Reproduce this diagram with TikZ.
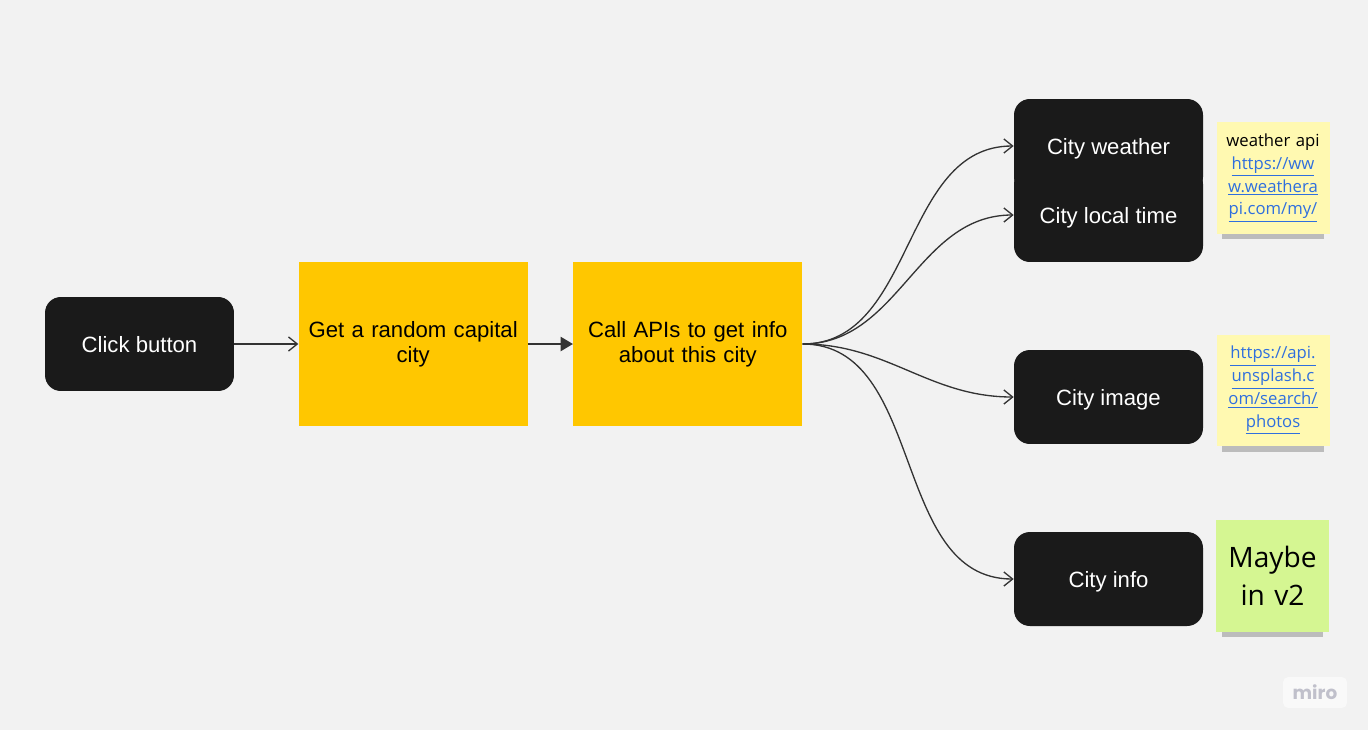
\documentclass[tikz,border=0pt]{standalone}
\usepackage{fontspec}
\setmainfont{Liberation Sans}
\newfontfamily\notefont{Open Sans}
\newfontfamily\logofont{Poppins}
\usetikzlibrary{arrows.meta, positioning, shadows}
\definecolor{bgC}  {RGB}{242, 242, 242}
\definecolor{boxC} {RGB}{ 26,  26,  26}
\definecolor{yC}   {RGB}{255, 199,   0}
\definecolor{noteY}{RGB}{255, 249, 177}
\definecolor{noteG}{RGB}{213, 246, 146}
\definecolor{lnkC} {RGB}{ 47, 111, 222}
\definecolor{arrC} {RGB}{ 51,  51,  51}
\definecolor{logoC}{RGB}{192, 192, 203}
\newcommand\lnk[1]{\textcolor{lnkC}{\underline{#1}}}
\tikzset{
  act/.style    = {rectangle, rounded corners=9pt, fill=boxC, text=white,
                   minimum width=3.78cm, minimum height=1.88cm, align=center,
                   text depth=0pt, font=\fontsize{12.6}{15}\selectfont},
  stepbox/.style= {rectangle, fill=yC, minimum width=4.58cm, minimum height=3.28cm,
                   text width=4.2cm, align=center,
                   font=\fontsize{12.6}{14.2}\selectfont},
  note/.style   = {rectangle, fill=#1, minimum width=2.26cm, minimum height=2.24cm,
                   text width=2.2cm, align=center, inner sep=0pt,
                   font=\notefont\fontsize{9.5}{13}\selectfont,
                   drop shadow={shadow scale=0.9, shadow xshift=0pt,
                                shadow yshift=-7pt, fill=black, opacity=0.22}},
  arr/.style    = {-{Straight Barb[length=5pt, width=8pt]}, line width=0.75pt,
                   color=arrC},
  farr/.style   = {-{Triangle[length=7pt, width=8pt]}, line width=1.1pt,
                   color=arrC},
  logo/.style   = {rectangle, rounded corners=3pt, fill=white!55!bgC, text=logoC,
                   minimum width=1.28cm, minimum height=0.62cm,
                   font=\logofont\bfseries\fontsize{10.5}{12}\selectfont},
}
\begin{document}
\begin{tikzpicture}[x=0.02cm, y=-0.02cm]

% ---- Canvas -----------------------------------------------------------------
\fill[bgC] (0,0) rectangle (1368,730);

% ---- Main flow --------------------------------------------------------------
\node[act] (click) at (139.5,344) {Click button};
\node[stepbox, right=1.28cm of click] (rand) {Get a random capital\\city};
\node[stepbox, right=0.9cm of rand] (apis) {Call APIs to get info\\about this city};

\draw[arr]  (click.east) -- (rand.west);
\draw[farr] (rand.east) -- (apis.west);

% ---- Result boxes -----------------------------------------------------------
\node[act] (weather) at (1108.5,146) {City weather};
\node[act] (ltime)   at (1108.5,215) {City local time};
\node[act] (image)   at (1108.5,397) {City image};
\node[act] (info)    at (1108.5,579) {City info};

\foreach \c in {weather, ltime, image, info}
  \draw[arr] (apis.east) to[out=0, in=180] (\c.west);

% ---- Sticky notes -----------------------------------------------------------
\node[note=noteY] (nweather) at (1273,178) {%
  weather api\\\lnk{https://ww}\\\lnk{w.weathera}\\\lnk{pi.com/my/}};
\node[note=noteY] (nimage) at (1273,390.5) {%
  \lnk{https://api.}\\\lnk{unsplash.c}\\\lnk{om/search/}\\\lnk{photos}};
\node[note=noteG, font=\notefont\fontsize{16}{21.6}\selectfont]
  (ninfo) at (1272.5,576) {Maybe\\in v2};

% ---- Board mark -------------------------------------------------------------
\node[logo] (miro) at (1315,692.5) {miro};

\end{tikzpicture}
\end{document}
